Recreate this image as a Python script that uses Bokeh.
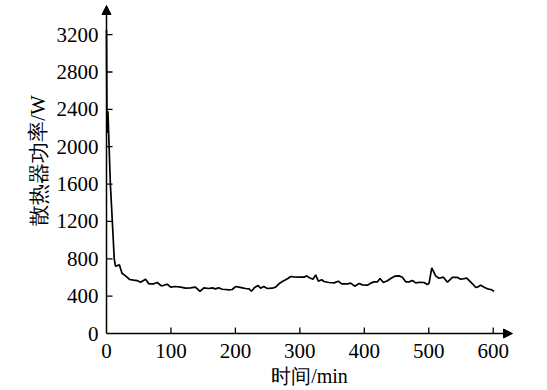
from bokeh.plotting import figure
from bokeh.models import Range1d, Arrow, NormalHead
from bokeh.core.properties import value
from bokeh.embed import file_html
from bokeh.resources import INLINE

# ---- data ----
time_min = [0, 0.8, 2.2, 6, 10, 12, 14, 20, 24, 29, 36, 42, 47.6, 52.8, 60.6, 65.7, 73.5,
            78.7, 84.9, 87, 94.2, 99.4, 107, 115, 122.7, 130.4, 138, 145, 151, 159, 164,
            169, 174, 179.6, 184.8, 190, 195, 200.3, 205.5, 210.7, 215.8, 221, 225, 230.3,
            235.5, 239, 244, 249.5, 257, 262.4, 267.6, 272.8, 278, 282, 285.7, 291, 298.6,
            306.4, 310.6, 315, 320.4, 324.5, 328.7, 333.9, 337.5, 345.2, 353, 359.7, 364.9,
            370, 374, 379, 385, 392, 397, 405, 410, 415, 420.5, 424.4, 429.6, 435.8, 441,
            447.2, 453.9, 459, 464.3, 469.5, 474.7, 479.8, 486, 492.7, 498, 500.5, 504.7,
            510.9, 516, 522.8, 529, 536.8, 544.6, 549.7, 559, 567.9, 573, 575.3, 580.7,
            585.9, 591, 596.3, 601.4]
power_w = [3250, 2150, 2380, 1600, 1070, 800, 720, 735, 645, 620, 578, 572, 567, 549, 581,
           532, 532, 546, 511, 511, 528, 496, 503, 496, 485, 489, 496, 450, 489, 482, 489,
           478, 489, 474, 471, 467, 471, 503, 496, 489, 482, 478, 453, 496, 514, 485, 503,
           482, 485, 496, 532, 557, 575, 592, 610, 607, 603, 603, 617, 596, 581, 628, 560,
           575, 557, 546, 542, 560, 532, 532, 532, 539, 507, 535, 521, 517, 539, 553, 553,
           589, 546, 564, 589, 614, 617, 603, 553, 553, 567, 542, 549, 546, 524, 539, 703,
           614, 592, 603, 549, 600, 600, 581, 592, 532, 492, 496, 517, 496, 478, 471, 453]

x_ticks = [0, 100, 200, 300, 400, 500, 600]
y_ticks = [0, 400, 800, 1200, 1600, 2000, 2400, 2800, 3200]
x_tick_labels = [str(t) for t in x_ticks]
y_tick_labels = [str(t) for t in y_ticks]
x_title = "时间/min"
y_title = "散热器功率/W"

# ---- geometry: the frame covers the whole canvas ----
W, H = 547, 390
X0_PX, Y0_PX = 106, 333          # pixel position of the data origin
SX = 0.6445                      # px per minute
SY = 0.0934                      # px per watt


def dx(px):
    return px / SX


def dy(px):
    return px / SY


X_ARROW = dx(512 - X0_PX)
Y_ARROW = dy(Y0_PX - 5)

p = figure(width=W, height=H, output_backend="svg", toolbar_location=None,
           x_axis_type=None, y_axis_type=None, title=None,
           x_range=Range1d(-dx(X0_PX), dx(W - X0_PX)),
           y_range=Range1d(-dy(H - Y0_PX), dy(Y0_PX)),
           min_border=0)
p.outline_line_color = None
p.grid.visible = False
p.background_fill_color = "white"
p.border_fill_color = "white"

FONT = value("Liberation Serif")

# curve
p.line(time_min, power_w, line_color="black", line_width=1.7)

# axis lines with arrow heads
p.add_layout(Arrow(end=NormalHead(size=9, fill_color="black", line_color="black", line_width=1),
                   x_start=0, y_start=0, x_end=X_ARROW, y_end=0,
                   line_color="black", line_width=1.5))
p.add_layout(Arrow(end=NormalHead(size=9, fill_color="black", line_color="black", line_width=1),
                   x_start=0, y_start=0, x_end=0, y_end=Y_ARROW,
                   line_color="black", line_width=1.5))

# ticks (inside)
xt = [t for t in x_ticks if t != 0]
p.segment(x0=xt, y0=[0] * len(xt), x1=xt, y1=[dy(6)] * len(xt),
          line_color="black", line_width=1.3)
yt = [t for t in y_ticks if t != 0]
p.segment(x0=[0] * len(yt), y0=yt, x1=[dx(6)] * len(yt), y1=yt,
          line_color="black", line_width=1.3)

# tick labels
p.text(x=x_ticks, y=[-dy(350.5 - Y0_PX)] * len(x_ticks), text=x_tick_labels,
       text_font=FONT, text_font_size="21px", text_align="center",
       text_baseline="alphabetic", text_color="black")
p.text(x=[-dx(X0_PX - 98)] * len(y_ticks), y=y_ticks,
       text=y_tick_labels, text_font=FONT, text_font_size="21px", text_align="right",
       text_baseline="alphabetic", text_color="black")

# axis titles
p.text(x=[dx(309 - X0_PX)], y=[-dy(375 - Y0_PX)], text=[x_title],
       text_font=FONT, text_font_size="20px", text_align="center",
       text_baseline="alphabetic", text_color="black")
p.text(x=[-dx(X0_PX - 38)], y=[dy(Y0_PX - 160)], text=[y_title], angle=1.5708,
       text_font=FONT, text_font_size="21px", text_align="center",
       text_baseline="alphabetic", text_color="black")

open("out.html", "w").write(file_html(p, INLINE))
